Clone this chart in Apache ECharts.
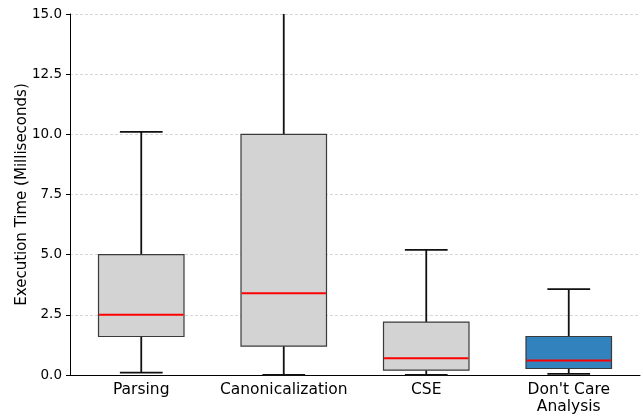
<!DOCTYPE html>
<html>
<head>
<meta charset="utf-8">
<script src="https://cdn.jsdelivr.net/npm/echarts@6/dist/echarts.min.js"></script>
<style>
  html, body { margin: 0; padding: 0; background: #fff; }
  #chart { width: 643px; height: 417px; }
</style>
</head>
<body>
<div id="chart"></div>
<script>
// categories and box stats
const categories = ['Parsing', 'Canonicalization', 'CSE', "Don't Care\nAnalysis"];
const whiskerLow = [0.1, 0.0, 0.0, 0.05];
const q1 = [1.6, 1.2, 0.2, 0.27];
const median = [2.5, 3.4, 0.7, 0.6];
const q3 = [5.0, 10.0, 2.2, 1.6];
const whiskerHigh = [10.1, 22.0, 5.2, 3.57];
const boxColors = ['#d3d3d3', '#d3d3d3', '#d3d3d3', '#3182bd'];

const font = 'DejaVu Sans';

const boxData = categories.map(function (c, i) {
  return [i, whiskerLow[i], q1[i], median[i], q3[i], whiskerHigh[i]];
});

function renderBox(params, api) {
  const i = api.value(0);
  const band = api.size([1, 0])[0];
  const cs = params.coordSys;
  const top = cs.y, bottom = cs.y + cs.height;
  const clampY = function (y) { return Math.min(Math.max(y, top), bottom); };
  const pt = function (v) { return api.coord([i, v]); };
  const x = pt(0)[0];
  const bw = band * 0.6, cw = band * 0.3;
  const yLow = clampY(pt(api.value(1))[1]);
  const yQ1 = pt(api.value(2))[1];
  const yMed = pt(api.value(3))[1];
  const yQ3 = pt(api.value(4))[1];
  const yHighRaw = pt(api.value(5))[1];
  const yHigh = clampY(yHighRaw);
  const wStyle = { stroke: '#111', lineWidth: 1.8 };
  const children = [
    { type: 'line', shape: { x1: x, y1: yQ1, x2: x, y2: yLow }, style: wStyle },
    { type: 'line', shape: { x1: x, y1: yQ3, x2: x, y2: yHigh }, style: wStyle },
    { type: 'line', shape: { x1: x - cw / 2, y1: yLow, x2: x + cw / 2, y2: yLow }, style: wStyle },
    { type: 'rect', shape: { x: x - bw / 2, y: yQ3, width: bw, height: yQ1 - yQ3 },
      style: { fill: boxColors[i], stroke: '#3a3a3a', lineWidth: 1.2 } },
    { type: 'line', shape: { x1: x - bw / 2 + 0.6, y1: yMed, x2: x + bw / 2 - 0.6, y2: yMed }, style: { stroke: '#ff0000', lineWidth: 2 } }
  ];
  if (yHighRaw >= top) {
    children.push({ type: 'line', shape: { x1: x - cw / 2, y1: yHigh, x2: x + cw / 2, y2: yHigh }, style: wStyle });
  }
  return { type: 'group', children: children };
}

const chart = echarts.init(document.getElementById('chart'), null, { renderer: 'canvas' });

const option = {
  animation: false,
  backgroundColor: '#ffffff',
  grid: { left: 70, right: 3, top: 14, bottom: 42, containLabel: false, outerBoundsMode: 'none' },
  xAxis: {
    type: 'category',
    data: categories,
    boundaryGap: true,
    axisLine: { lineStyle: { color: '#000', width: 1 } },
    axisTick: { alignWithLabel: true, length: 4, lineStyle: { color: '#000' } },
    axisLabel: { interval: 0, color: '#000', fontFamily: font, fontSize: 15.5, margin: 6, lineHeight: 17 },
    splitLine: { show: false }
  },
  yAxis: {
    type: 'value',
    min: 0,
    max: 15,
    interval: 2.5,
    name: 'Execution Time (Milliseconds)',
    nameLocation: 'middle',
    nameGap: 40,
    nameMoveOverlap: false,
    nameTextStyle: { color: '#000', fontFamily: font, fontSize: 15 },
    axisLine: { show: true, lineStyle: { color: '#000', width: 1 } },
    axisTick: { show: true, length: 4, lineStyle: { color: '#000' } },
    axisLabel: {
      color: '#000', fontFamily: font, fontSize: 13.5, margin: 8,
      formatter: function (v) { return v.toFixed(1); }
    },
    splitLine: { show: true, lineStyle: { color: '#cccccc', type: [3, 2], width: 0.8 } }
  },
  series: [{
    type: 'custom',
    renderItem: renderBox,
    data: boxData,
    encode: { x: 0, y: [1, 2, 3, 4, 5] },
    z: 3
  }]
};

chart.setOption(option);
</script>
</body>
</html>
